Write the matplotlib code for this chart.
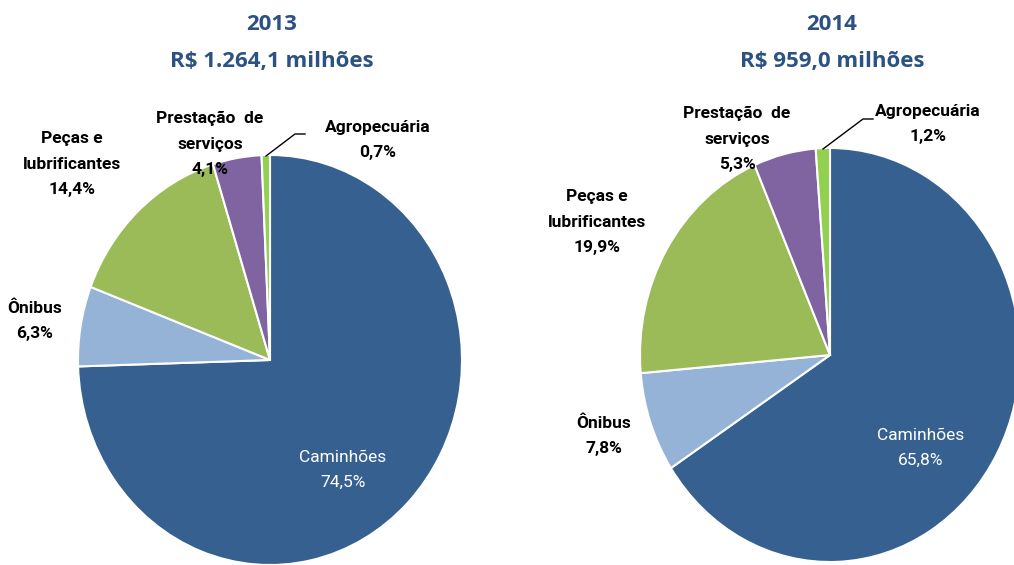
import matplotlib
matplotlib.use("Agg")
import matplotlib.pyplot as plt

# data
categories = ["Caminhões", "Ônibus", "Peças e\nlubrificantes", "Prestação  de\nserviços", "Agropecuária"]
share_2013 = [74.5, 6.3, 14.4, 4.1, 0.7]
share_2014 = [65.8, 7.8, 19.9, 5.3, 1.2]
years = ["2013", "2014"]
totals = ["R$ 1.264,1 milhões", "R$ 959,0 milhões"]

colors = ["#36608F", "#95B3D7", "#9BBB59", "#8064A2", "#92D050"]
title_color = "#2B5282"
label_font = ["Roboto", "DejaVu Sans"]
title_font = ["Open Sans", "DejaVu Sans"]
W, H = 1014, 565

fig = plt.figure(figsize=(W / 100, H / 100), dpi=100)


def px(x, y):
    return x / W, 1 - y / H


def fmt(v):
    return f"{v:.1f}".replace(".", ",") + "%"


def draw_pie(cx, cy, rx, ry, values):
    ax = fig.add_axes([(cx - rx) / W, (H - cy - ry) / H, 2 * rx / W, 2 * ry / H])
    ax.pie(values, colors=colors, startangle=90, counterclock=False,
           wedgeprops=dict(edgecolor="white", linewidth=1.5))
    ax.set_aspect("auto")
    ax.set_xlim(-1, 1)
    ax.set_ylim(-1, 1)
    ax.axis("off")
    return ax


# (center x, center y, radius x, radius y) in pixels
pies = [(270, 360, 192, 205), (830, 355, 190, 207)]
for (cx, cy, rx, ry), vals, yr, tot in zip(pies, [share_2013, share_2014], years, totals):
    draw_pie(cx, cy, rx, ry, vals)
    fig.text(*px(cx + 2, 24), yr, ha="center", va="center", fontsize=16,
             fontweight="bold", color=title_color, family=title_font)
    fig.text(*px(cx + 2, 62), tot, ha="center", va="center", fontsize=16,
             fontweight="bold", color=title_color, family=title_font)

# label anchor positions (pixels) per chart
label_pos = [
    [(343, 470), (35, 321), (72, 164), (210, 144), (378, 140)],
    [(921, 448), (604, 436), (597, 222), (737, 139), (928, 124)],
]
for pos, vals in zip(label_pos, [share_2013, share_2014]):
    for i, (cat, v) in enumerate(zip(categories, vals)):
        if i == 0:
            col, wt = "white", "normal"
        else:
            col, wt = "black", "semibold"
        fig.text(*px(*pos[i]), f"{cat}\n{fmt(v)}", ha="center", va="center",
                 fontsize=12.5, color=col, fontweight=wt, family=label_font,
                 linespacing=1.85)

# leader lines for the thin Agropecuária slices
leaders = [[(266, 156), (295, 134), (305, 134)], [(823, 149), (863, 119), (873, 119)]]
for pts in leaders:
    xs = [p[0] / W for p in pts]
    ys = [1 - p[1] / H for p in pts]
    fig.add_artist(plt.Line2D(xs, ys, color="black", linewidth=1))

fig.savefig("out.png", dpi=100)
